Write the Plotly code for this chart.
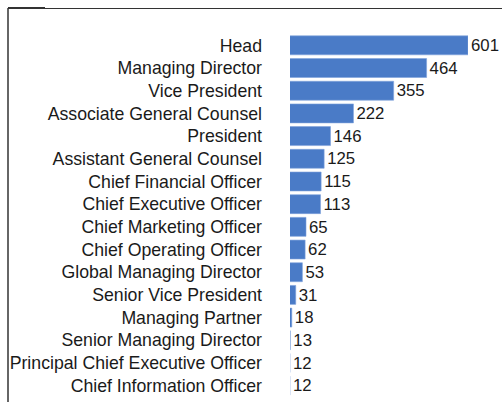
import plotly.graph_objects as go

# Job titles and counts, top to bottom
titles = [
    "Head", "Managing Director", "Vice President", "Associate General Counsel",
    "President", "Assistant General Counsel", "Chief Financial Officer",
    "Chief Executive Officer", "Chief Marketing Officer", "Chief Operating Officer",
    "Global Managing Director", "Senior Vice President", "Managing Partner",
    "Senior Managing Director", "Principal Chief Executive Officer",
    "Chief Information Officer",
]
counts = [601, 464, 355, 222, 146, 125, 115, 113, 65, 62, 53, 31, 18, 13, 12, 12]

W, H = 502, 402
L, R, T, B = 290, 34, 34, 5
BAR = "#4a7bc7"
FONT = dict(family="Liberation Sans, Arial, Helvetica, sans-serif", size=17.7, color="#1a1a1a")

fig = go.Figure(go.Bar(
    x=counts,
    y=titles,
    orientation="h",
    marker=dict(color=BAR, line=dict(color="#7fa3dc", width=0.6)),
    text=[str(c) for c in counts],
    textposition="outside",
    textfont=FONT,
    cliponaxis=False,
))

# value axis runs from the smallest to the largest count
fig.update_xaxes(range=[min(counts), max(counts)], visible=False, fixedrange=True)
fig.update_yaxes(
    categoryorder="array",
    categoryarray=titles[::-1],
    showgrid=False, zeroline=False, showline=False, ticks="",
    ticklabelstandoff=27,
    tickfont=FONT,
)

# frame along the top and left edges
def px_x(p):
    return (p - L) / (W - L - R)

def px_y(p):
    return 1 - (p - T) / (H - T - B)

frame = [
    dict(x0=px_x(8), x1=px_x(W), y0=px_y(8.5), y1=px_y(8.5), w=1.2),
    dict(x0=px_x(8), x1=px_x(45), y0=px_y(8), y1=px_y(8), w=2),
    dict(x0=px_x(8), x1=px_x(8), y0=px_y(8), y1=px_y(H), w=1.5),
]
for f in frame:
    fig.add_shape(type="line", xref="paper", yref="paper",
                  x0=f["x0"], x1=f["x1"], y0=f["y0"], y1=f["y1"],
                  line=dict(color="#333333", width=f["w"]))

fig.update_layout(
    width=W, height=H,
    margin=dict(l=L, r=R, t=T, b=B, autoexpand=False),
    bargap=0.165,
    plot_bgcolor="white", paper_bgcolor="white",
    showlegend=False,
    font=FONT,
)

fig.write_html("out.html")
